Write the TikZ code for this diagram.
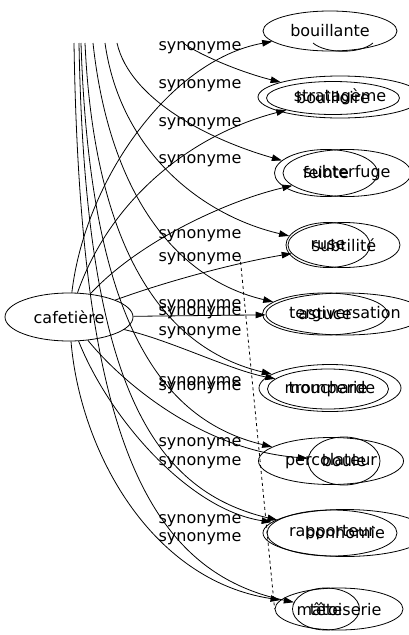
\documentclass[tikz,border=0pt]{standalone}
\usepackage{fontspec}
\setmainfont{DejaVu Sans}
\usetikzlibrary{shapes.geometric,arrows.meta}

\begin{document}
\begin{tikzpicture}[x=1pt,y=-1pt,
  mot/.style={ellipse,draw,line width=0.8pt,inner sep=0pt,font=\fontsize{16}{19}\selectfont},
  lien/.style={draw,line width=0.8pt,-{Triangle[length=10pt,width=6.5pt]}},
  etiq/.style={inner sep=0pt,font=\fontsize{16}{19}\selectfont}]

% Cornice
\useasboundingbox (0,0) rectangle (409,635);

% Nodo centrale
\node[mot,minimum width=128pt,minimum height=48pt] (cafetiere) at (69,317) {cafetière};

% Nodi a destra (sovrapposti)
\node[mot,minimum width=134pt,minimum height=40pt] (bouillante) at (330,31) {bouillante};
\node[mot,minimum width=164pt,minimum height=42pt] (stratageme) at (340,97) {stratagème};
\node[mot,minimum width=133pt,minimum height=33pt] (bouilloire) at (333,98) {bouilloire};
\node[mot,minimum width=128pt,minimum height=47pt] (subterfuge) at (347,173) {subterfuge};
\node[mot,minimum width=103pt,minimum height=47pt] (feinte) at (326,173) {feinte};
\node[mot,minimum width=112pt,minimum height=45pt] (subtilite) at (344,245) {subtilité};
\node[mot,minimum width=84pt,minimum height=45pt] (ruse) at (328,245) {ruse};
\node[mot,minimum width=156pt,minimum height=42pt] (tergiversation) at (345,314) {tergiversation};
\node[mot,minimum width=125pt,minimum height=42pt] (astuce) at (325,314) {astuce};
\node[mot,minimum width=142pt,minimum height=47pt] (moucharde) at (330,388) {moucharde};
\node[mot,minimum width=121pt,minimum height=40pt] (tromperie) at (328,389) {tromperie};
\node[mot,minimum width=145pt,minimum height=47pt] (percolateur) at (331,461) {percolateur};
\node[mot,minimum width=72pt,minimum height=48pt] (boule) at (344,461) {boule};
\node[mot,minimum width=130pt,minimum height=46pt] (rapporteur) at (332,533) {rapporteur};
\node[mot,minimum width=164pt,minimum height=47pt] (bonhomie) at (345,533) {bonhomie};
\node[mot,minimum width=128pt,minimum height=42pt] (matoiserie) at (339,609) {mâtoiserie};
\node[mot,minimum width=67pt,minimum height=42pt] (tete) at (326,609) {tête};

% Arco sotto bouillante
\draw[line width=0.8pt] (313,43) .. controls (326,54) and (360,54) .. (373,43);

% Estremi tagliati in alto
\coordinate (h1) at (183,43);
\coordinate (h2) at (117,43);
\coordinate (h3) at (105,43);
\coordinate (h4) at (93,43);
\coordinate (h5) at (85,43);
\coordinate (h6) at (81,43);
\coordinate (h7) at (79,43);
\coordinate (h8) at (74,43);
\coordinate (pointille) at (240,256);

% Archi dall'alto
\draw[lien] (h1) .. controls (200,55) and (240,72) .. (stratageme);
\draw[lien] (h2) .. controls (130,100) and (210,140) .. (feinte);
\draw[lien] (h3) .. controls (120,150) and (200,215) .. (ruse);
\draw[lien] (h4) .. controls (110,200) and (180,280) .. (astuce);
\draw[lien] (h5) .. controls (95,260) and (170,350) .. (moucharde);
\draw[lien] (h6) .. controls (90,320) and (160,420) .. (percolateur);
\draw[lien] (h7) .. controls (85,380) and (150,490) .. (rapporteur);
\draw[lien] (h8) .. controls (80,420) and (140,570) .. (tete);

% Archi da cafetiere
\draw[lien] (cafetiere) .. controls (85,180) and (170,60) .. (bouillante);
\draw[lien] (cafetiere) .. controls (110,200) and (190,135) .. (bouilloire);
\draw[lien] (cafetiere) .. controls (140,240) and (230,200) .. (subterfuge);
\draw[lien] (cafetiere) .. controls (170,280) and (240,262) .. (subtilite);
\draw[lien] (cafetiere) -- (tergiversation);
\draw[lien] (cafetiere) .. controls (170,340) and (230,370) .. (tromperie);
\draw[lien] (cafetiere) .. controls (120,380) and (200,450) .. (boule);
\draw[lien] (cafetiere) .. controls (110,420) and (190,510) .. (bonhomie);
\draw[lien] (cafetiere) .. controls (80,450) and (150,580) .. (matoiserie);

% Tratteggio
\draw[dashed,line width=0.8pt] (pointille) -- (matoiserie.west);

% Etichette
\node[etiq] (e1) at (200,48) {synonyme};
\node[etiq] (e2) at (200,86) {synonyme};
\node[etiq] (e3) at (200,124) {synonyme};
\node[etiq] (e4) at (200,161) {synonyme};
\node[etiq] (e5) at (200,236) {synonyme};
\node[etiq] (e6) at (200,259) {synonyme};
\node[etiq] (e7) at (200,306) {synonyme};
\node[etiq] (e8) at (200,313) {synonyme};
\node[etiq] (e9) at (200,333) {synonyme};
\node[etiq] (e10) at (200,383) {synonyme};
\node[etiq] (e11) at (200,388) {synonyme};
\node[etiq] (e12) at (200,444) {synonyme};
\node[etiq] (e13) at (200,463) {synonyme};
\node[etiq] (e14) at (200,521) {synonyme};
\node[etiq] (e15) at (200,539) {synonyme};
\end{tikzpicture}
\end{document}
